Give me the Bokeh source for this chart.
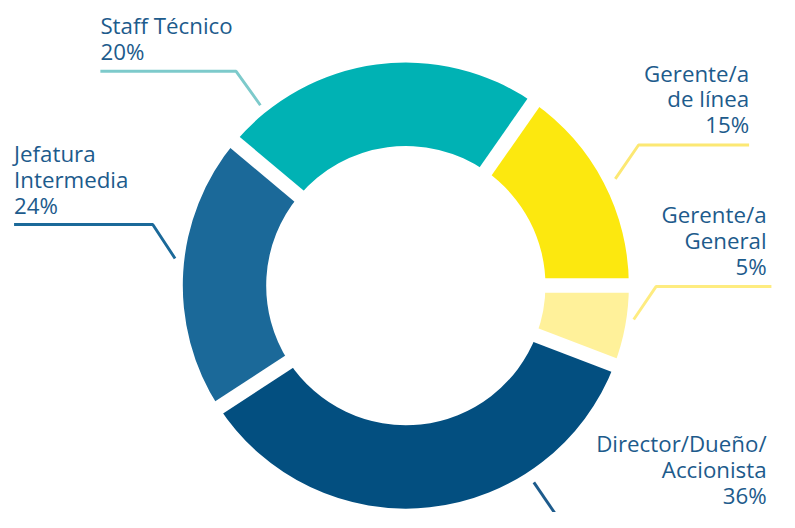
import numpy as np
from bokeh.plotting import figure
from bokeh.models import Range1d, ColumnDataSource
from bokeh.embed import file_html
from bokeh.resources import INLINE
from bokeh.core.properties import value

# ---- data (counter-clockwise from 3 o'clock, as drawn) ----
categories = ["Gerente/a de línea", "Staff Técnico", "Jefatura Intermedia",
              "Director/Dueño/Accionista", "Gerente/a General"]
arc_share = [15.3, 23.6, 20.3, 35.0, 5.8]          # share of the ring as drawn (%)
pct_labels = ["15%", "20%", "24%", "36%", "5%"]   # printed percentages
name_lines = [["Gerente/a", "de línea"], ["Staff Técnico"], ["Jefatura", "Intermedia"],
              ["Director/Dueño/", "Accionista"], ["Gerente/a", "General"]]
colors = ["#FCE80F", "#00B2B4", "#1B6999", "#034F80", "#FFF19A"]
leader_colors = ["#FCE873", "#7DCACB", "#1B6999", "#1D5B8C", "#FEEC80"]

W, H = 779, 512
S = H / 528.0          # uniform scale so the whole reference layout fits
def X(sx): return sx * S
def Y(sy): return H - sy * S

p = figure(width=W, height=H, output_backend="svg", toolbar_location=None,
           x_range=Range1d(0, W), y_range=Range1d(0, H), min_border=0)
p.axis.visible = False
p.grid.visible = False
p.outline_line_color = None
p.background_fill_color = "white"

cx, cy = X(418), Y(294)
R_out, R_in = 230 * S, 144 * S

frac = np.array(arc_share) / np.sum(arc_share)
ends = np.cumsum(frac) * 2 * np.pi
starts = ends - frac * 2 * np.pi

src = ColumnDataSource(dict(start=starts, end=ends, color=colors, cat=categories))
p.annular_wedge(x=cx, y=cy, inner_radius=R_in, outer_radius=R_out,
                start_angle="start", end_angle="end", fill_color="color",
                line_color=None, source=src)
# white gaps between slices
p.ray(x=cx, y=cy, length=R_out + 20, angle=starts, line_color="white", line_width=15 * S)

# ---- labels (layout positions in reference px) ----
anchors = [(772, 83, "right"), (103, 34, "left"), (14, 166, "left"),
           (790, 465, "right"), (790, 229, "right")]
line_step = 26.5
text_shift = 8   # compensates the renderer's baseline offset
tx, ty, tt, ta = [], [], [], []
for names, pct, (ax, ay, al) in zip(name_lines, pct_labels, anchors):
    for k, s in enumerate(names + [pct]):
        tx.append(X(ax)); ty.append(Y(ay + k * line_step - text_shift)); tt.append(s); ta.append(al)
p.text(x=tx, y=ty, text=tt, text_align=ta, text_baseline="alphabetic",
       text_font=value("Open Sans"), text_font_size=f"{23 * S:.1f}px", text_color="#1D5B8C")

leaders = [
    [(772, 149), (658, 149), (634, 184)],
    [(103, 73), (243, 73), (268, 108)],
    [(14, 231), (157, 231), (180, 266)],
    [(550, 497), (576, 535)],
    [(795, 295), (676, 295), (653, 329)],
]
p.multi_line(xs=[[X(a) for a, b in L] for L in leaders],
             ys=[[Y(b) for a, b in L] for L in leaders],
             line_color=leader_colors, line_width=3 * S)

open("out.html", "w").write(file_html(p, INLINE))
